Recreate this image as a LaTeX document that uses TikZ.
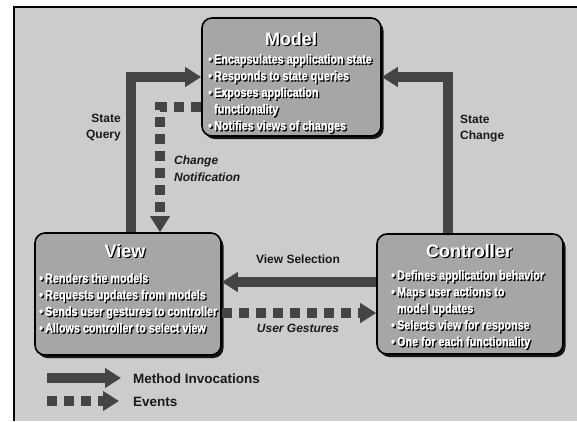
\documentclass[tikz,border=0pt]{standalone}
\usepackage{fontspec}
\setmainfont{Liberation Sans}
\newfontfamily\condf[FakeStretch=0.83,FakeBold=1.2]{Liberation Sans}
\usetikzlibrary{arrows.meta,shadows}
\definecolor{bgc}{HTML}{CCCCCC}
\definecolor{boxc}{HTML}{A6A6A6}
\definecolor{arrc}{HTML}{444444}
\definecolor{txtc}{HTML}{1A1A1A}
\tikzset{
  blk/.style={rectangle,draw=black,line width=1.6pt,fill=boxc,rounded corners=10pt,inner sep=0pt,
    drop shadow={shadow xshift=2.5pt,shadow yshift=-3pt,fill=black,opacity=.9}},
  ttl/.style={anchor=base,inner sep=0pt,font=\bfseries\fontsize{18}{20}\selectfont},
  bul/.style={anchor=north west,align=left,inner sep=0pt,font=\condf\bfseries\fontsize{13}{16.6}\selectfont},
  lbl/.style={inner sep=0pt,text=txtc,font=\bfseries\fontsize{12}{16}\selectfont},
  lbi/.style={lbl,font=\bfseries\itshape\fontsize{12}{17}\selectfont},
  inv/.style={line width=10pt,arrc,-{Triangle[length=16pt,width=19pt]}},
  evt/.style={inv,dash pattern=on 10pt off 7pt}
}
\newcommand{\shd}[1]{\rlap{\kern1.3pt\raisebox{-1.3pt}{\color{black}#1}}{\color{white}#1}}

\begin{document}
\begin{tikzpicture}[x=1pt,y=-1pt]
\useasboundingbox (0,0) rectangle (577,421);
\fill[white] (0,0) rectangle (577,421);
\fill[bgc] (14,7) rectangle (577,421);
\draw[line width=2.4pt] (14,421) -- (14,7) -- (577,7);

\node[blk,minimum width=179pt,minimum height=118pt] (model) at (291.5,77) {};
\node[blk,minimum width=186pt,minimum height=122pt] (view) at (128,294) {};
\node[blk,minimum width=186pt,minimum height=120pt] (ctrl) at (470,294) {};

\node[ttl] (model-t) at (291,45) {\shd{Model}};
\node[ttl] (view-t) at (125,257) {\shd{View}};
\node[ttl] (ctrl-t) at (469,257) {\shd{Controller}};

\node[bul] (model-b) at (208,54) {\shd{\textbullet\,Encapsulates application state}\\
  \shd{\textbullet\,Responds to state queries}\\
  \shd{\textbullet\,Exposes application}\\
  \shd{\phantom{\textbullet\,}functionality}\\
  \shd{\textbullet\,Notifies views of changes}};
\node[bul] (view-b) at (39,273) {\shd{\textbullet\,Renders the models}\\
  \shd{\textbullet\,Requests updates from models}\\
  \shd{\textbullet\,Sends user gestures to controller}\\
  \shd{\textbullet\,Allows controller to select view}};
\node[bul] (ctrl-b) at (391,270) {\shd{\textbullet\,Defines application behavior}\\
  \shd{\textbullet\,Maps user actions to}\\
  \shd{\phantom{\textbullet\,}model updates}\\
  \shd{\textbullet\,Selects view for response}\\
  \shd{\textbullet\,One for each functionality}};

\draw[inv] ([xshift=3pt]view.north) |- (model.west);
\draw[inv] ([xshift=-22pt]ctrl.north) |- (model.east);
\draw[inv] ([yshift=12pt]ctrl.west) -- ([yshift=12pt]view.east);
\draw[evt] ([yshift=-30pt]model.west) -| ([xshift=32pt]view.north);
\draw[evt] ([yshift=-19pt]view.east) -- ([yshift=-19pt]ctrl.west);

\node[lbl,anchor=east,align=right] (sq) at (121,128) {State\\Query};
\node[lbl,anchor=west,align=left] (sc) at (460,129) {State\\Change};
\node[lbi,anchor=west,align=left] (cn) at (174,169) {Change\\Notification};
\node[lbl] (vs) at (298,259) {View Selection};
\node[lbi] (ug) at (298,328) {User Gestures};

\coordinate (m0) at (47,378);
\coordinate (m1) at (121,378);
\draw[inv] (m0) -- (m1);
\node[lbl,anchor=west,font=\bfseries\fontsize{13.5}{16}\selectfont] (mlg) at (133,379) {Method Invocations};
\coordinate (e0) at (47,401);
\coordinate (e1) at (119,401);
\draw[evt] (e0) -- (e1);
\node[lbl,anchor=west,font=\bfseries\fontsize{13.5}{16}\selectfont] (elg) at (133,402) {Events};
\end{tikzpicture}
\end{document}
